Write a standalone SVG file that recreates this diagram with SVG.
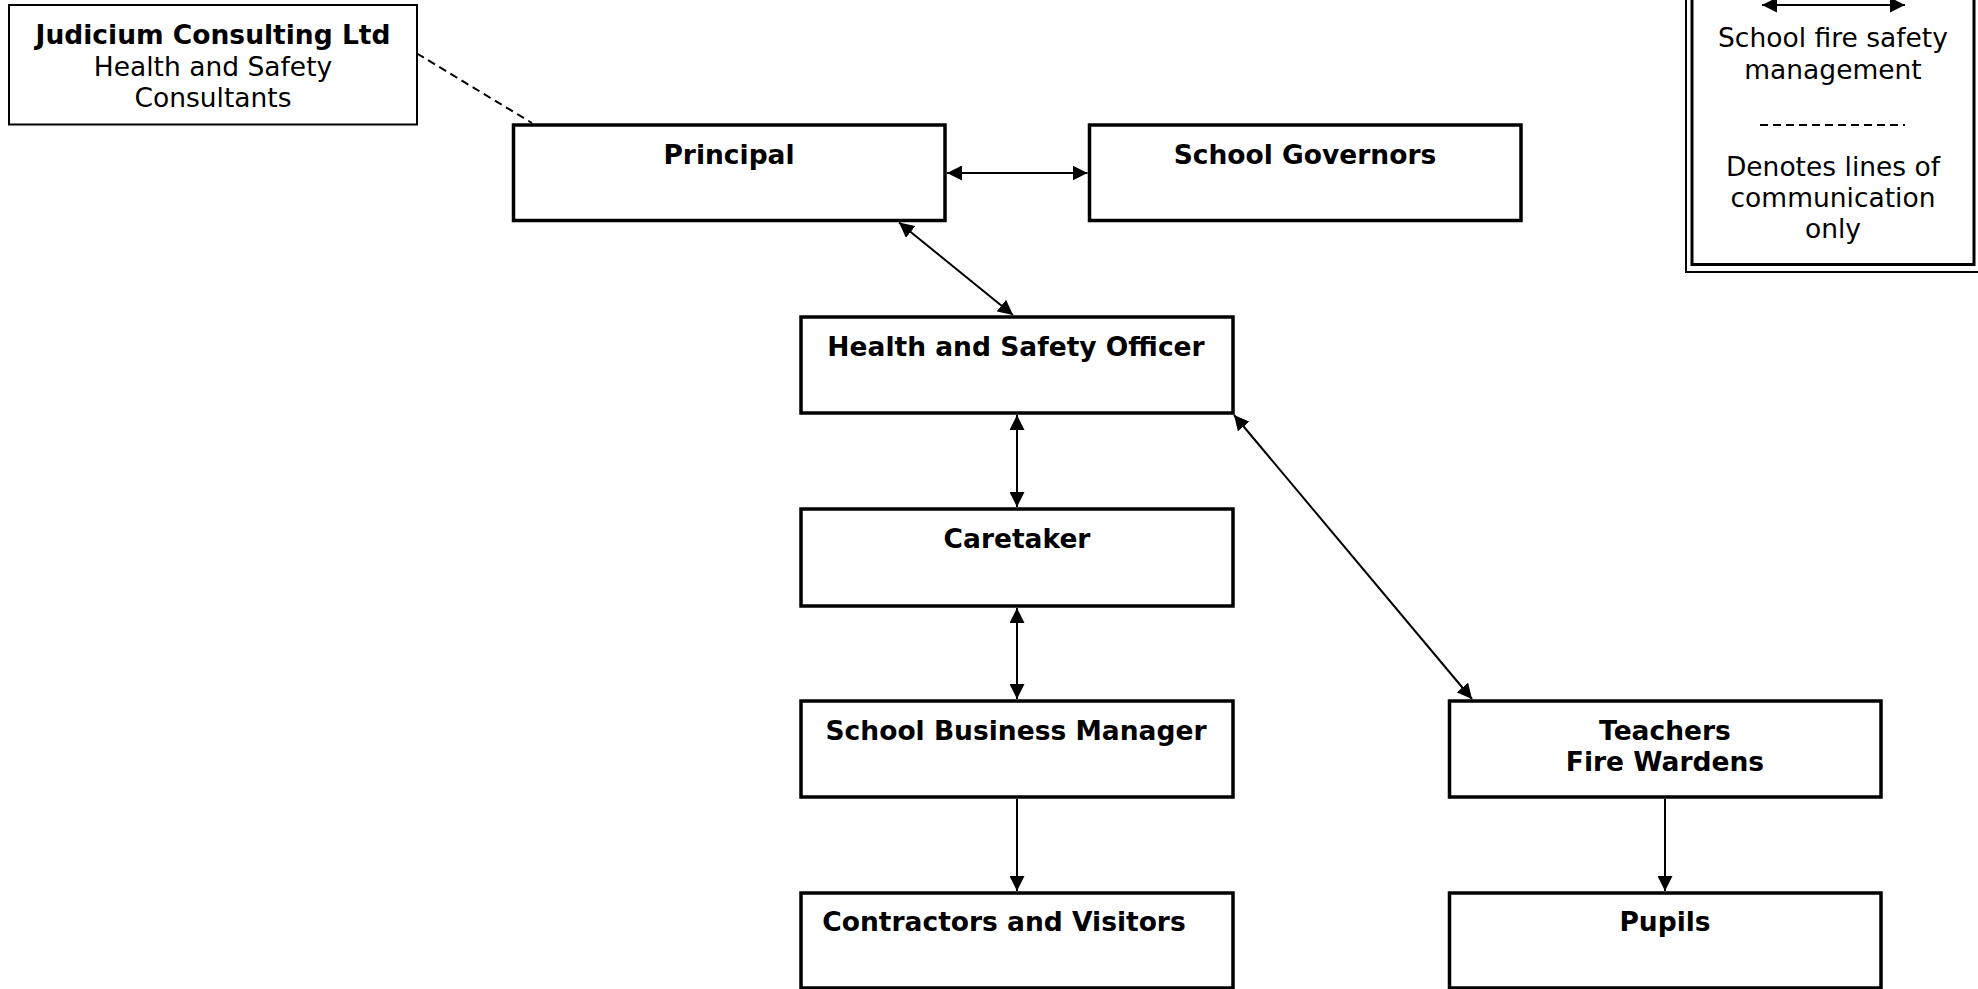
<svg xmlns="http://www.w3.org/2000/svg" width="1978" height="989" viewBox="0 0 1978 989">
<style>
  .bg { fill: #ffffff; }
  .box { fill: #ffffff; stroke: #000; stroke-width: 3.5; }
  .thin { fill: #ffffff; stroke: #000; stroke-width: 2; }
  .lbl { font-family: "DejaVu Sans", Verdana, sans-serif; font-size: 26.5px; font-weight: bold; fill: #000; text-anchor: middle; }
  .reg { font-family: "DejaVu Sans", Verdana, sans-serif; font-size: 26.5px; fill: #000; text-anchor: middle; }
  .conn { stroke: #000; stroke-width: 2; fill: none; }
  .dash { stroke: #000; stroke-width: 2; fill: none; stroke-dasharray: 8 5; }
</style>
<defs>
  <marker id="ah" markerUnits="userSpaceOnUse" markerWidth="15" markerHeight="15" viewBox="0 0 15 15" refX="15" refY="7.5" orient="auto-start-reverse">
    <path d="M0,0 L15,7.5 L0,15 z" fill="#000"/>
  </marker>
</defs>
<rect class="bg" x="0" y="0" width="1978" height="989"/>

<g id="judicium">
  <rect class="thin" x="9" y="5" width="408" height="119.5"/>
  <text class="lbl" x="213" y="43.5">Judicium Consulting Ltd</text>
  <text class="reg" x="213" y="75.5">Health and Safety</text>
  <text class="reg" x="213" y="107">Consultants</text>
</g>

<g id="principal">
  <rect class="box" x="513.5" y="125" width="431.5" height="95.5"/>
  <text class="lbl" x="729" y="163.5">Principal</text>
</g>

<g id="governors">
  <rect class="box" x="1089.5" y="125" width="431.5" height="95.5"/>
  <text class="lbl" x="1305" y="163.5">School Governors</text>
</g>

<g id="hso">
  <rect class="box" x="801" y="317" width="432" height="96"/>
  <text class="lbl" x="1016" y="355.5">Health and Safety Officer</text>
</g>

<g id="caretaker">
  <rect class="box" x="801" y="509" width="432" height="97"/>
  <text class="lbl" x="1017" y="548">Caretaker</text>
</g>

<g id="sbm">
  <rect class="box" x="801" y="701" width="432" height="96"/>
  <text class="lbl" x="1016" y="740">School Business Manager</text>
</g>

<g id="contractors">
  <rect class="box" x="801" y="893" width="432" height="95"/>
  <text class="lbl" x="1004" y="931">Contractors and Visitors</text>
</g>

<g id="teachers">
  <rect class="box" x="1449.5" y="701" width="431.5" height="96"/>
  <text class="lbl" x="1665" y="740">Teachers</text>
  <text class="lbl" x="1665" y="771">Fire Wardens</text>
</g>

<g id="pupils">
  <rect class="box" x="1449.5" y="893" width="431.5" height="95"/>
  <text class="lbl" x="1665" y="931">Pupils</text>
</g>

<g id="legend">
  <rect fill="none" stroke="#000" stroke-width="2" x="1686" y="-20" width="320" height="292"/>
  <rect fill="#ffffff" stroke="#000" stroke-width="3" x="1692" y="-14" width="282" height="278.5"/>
  <line class="conn" x1="1762" y1="5" x2="1905" y2="5" marker-start="url(#ah)" marker-end="url(#ah)"/>
  <text class="reg" x="1833" y="47">School fire safety</text>
  <text class="reg" x="1833" y="79">management</text>
  <line class="dash" x1="1760" y1="125" x2="1905" y2="125"/>
  <text class="reg" x="1833" y="176">Denotes lines of</text>
  <text class="reg" x="1833" y="207">communication</text>
  <text class="reg" x="1833" y="238">only</text>
</g>

<g id="connectors">
  <line class="conn" x1="947" y1="173" x2="1087.5" y2="173" marker-start="url(#ah)" marker-end="url(#ah)"/>
  <line class="conn" x1="899" y1="222.5" x2="1013" y2="315" marker-start="url(#ah)" marker-end="url(#ah)"/>
  <line class="conn" x1="1017" y1="415" x2="1017" y2="507" marker-start="url(#ah)" marker-end="url(#ah)"/>
  <line class="conn" x1="1017" y1="608" x2="1017" y2="699" marker-start="url(#ah)" marker-end="url(#ah)"/>
  <line class="conn" x1="1234" y1="415" x2="1472" y2="699" marker-start="url(#ah)" marker-end="url(#ah)"/>
  <line class="conn" x1="1017" y1="799" x2="1017" y2="891" marker-end="url(#ah)"/>
  <line class="conn" x1="1665" y1="799" x2="1665" y2="891" marker-end="url(#ah)"/>
  <line class="dash" x1="417" y1="53.5" x2="532" y2="123"/>
</g>
</svg>
